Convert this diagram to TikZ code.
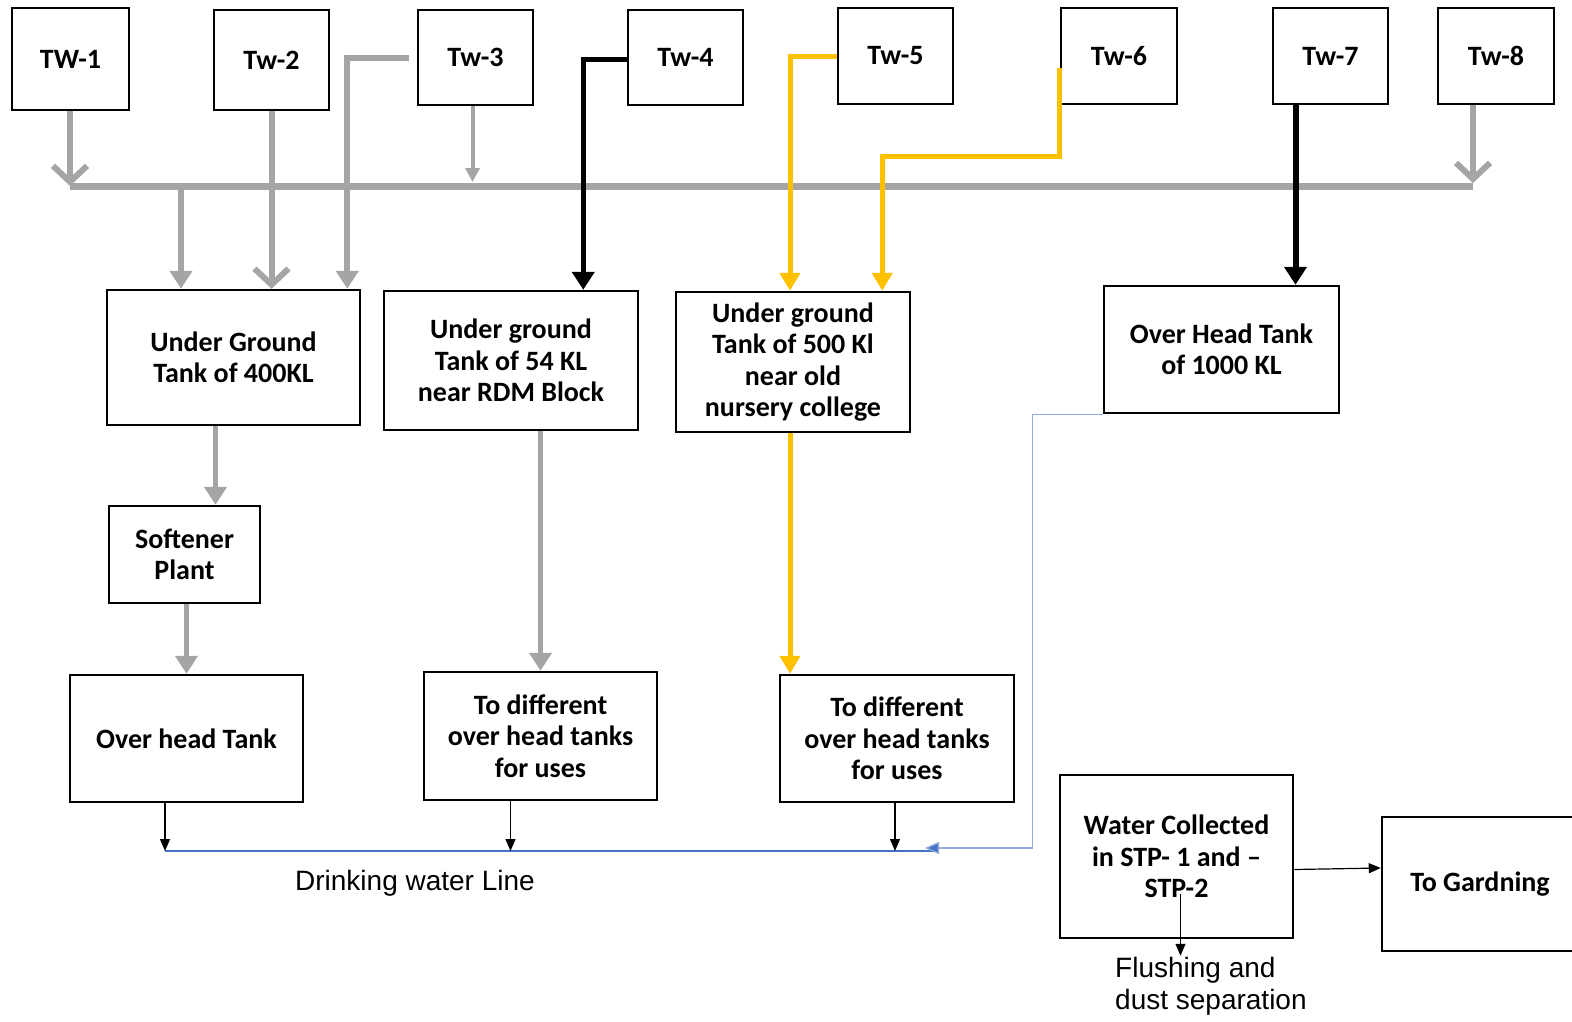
\documentclass[tikz,border=0pt]{standalone}
\usepackage{fontspec}
\setmainfont{Carlito}
\newfontfamily\arialfont{Liberation Sans}
\usepackage{xcolor,tikz}
\usetikzlibrary{arrows.meta,calc,positioning}
\definecolor{pipegray}{HTML}{A5A5A5}
\definecolor{pipeyellow}{HTML}{FFC000}
\definecolor{lineblue}{HTML}{4472C4}
\definecolor{lightblue}{HTML}{8FAADC}
\tikzset{>=stealth}

\begin{document}
\begin{tikzpicture}[x=1pt,y=-1pt,
  box/.style={draw, line width=2.5pt, align=center, inner sep=0pt,
    font=\fontsize{28}{31.5}\selectfont\bfseries},
  gpipe/.style={draw=pipegray, line width=6pt},
  gtip/.style={-{Triangle[length=18pt,width=22pt]}},
  vtip/.style={-{Straight Barb[length=16pt,width=34pt]}},
  ypipe/.style={draw=pipeyellow, line width=5pt, -{Triangle[length=18pt,width=20pt]}},
  kpipe/.style={draw=black, line width=5pt, -{Triangle[length=18pt,width=22pt]}},
  thinarrow/.style={draw=black, line width=1.2pt, -{Triangle[length=12pt,width=10pt]}}]
\useasboundingbox (0,0) rectangle (1572,1021);
%%%% tube wells
\node[box, minimum width=117, minimum height=102] (tw1) at (70.5,59) {TW-1};
\node[box, minimum width=115, minimum height=100] (tw2) at (271.5,60) {Tw-2};
\node[box, minimum width=115, minimum height=95] (tw3) at (475.5,57.5) {Tw-3};
\node[box, minimum width=115, minimum height=95] (tw4) at (685.5,57.5) {Tw-4};
\node[box, minimum width=115, minimum height=96] (tw5) at (895.5,56) {Tw-5};
\node[box, minimum width=116, minimum height=96] (tw6) at (1119,56) {Tw-6};
\node[box, minimum width=115, minimum height=96] (tw7) at (1330.5,56) {Tw-7};
\node[box, minimum width=116, minimum height=96] (tw8) at (1496,56) {Tw-8};
%%%% tanks
\node[box, minimum width=253, minimum height=135] (ug400) at (233.5,357.5) {Under Ground\\Tank of 400KL};
\node[box, minimum width=254, minimum height=139] (ug54) at (511,360.5) {Under ground\\Tank of 54 KL\\near RDM Block};
\node[box, minimum width=234, minimum height=140] (ug500) at (793,362) {Under ground\\Tank of 500 Kl\\near old\\nursery college};
\node[box, minimum width=235, minimum height=127] (oht) at (1221.5,349.5) {Over Head Tank\\of 1000 KL};
\node[box, minimum width=151, minimum height=97] (soft) at (184.5,554.5) {Softener\\Plant};
\node[box, minimum width=233, minimum height=127] (ohtank) at (186.5,738.5) {Over head Tank};
\node[box, minimum width=233, minimum height=128] (diff1) at (540.5,736) {To different\\over head tanks\\for uses};
\node[box, minimum width=234, minimum height=127] (diff2) at (897,738.5) {To different\\over head tanks\\for uses};
\node[box, minimum width=233, minimum height=163] (stp) at (1176.5,856.5) {Water Collected\\in STP- 1 and --\\STP-2};
\node[box, minimum width=196, minimum height=134] (garden) at (1480,884) {To Gardning};
%%%% labels
\node[font=\arialfont\fontsize{28}{32}\selectfont] (dwlabel) at (415,883) {Drinking water Line};
\node[font=\arialfont\fontsize{28}{32}\selectfont, align=left, anchor=west, inner sep=1pt] (flush) at (1114,986) {Flushing and\\dust separation};
%%%% header line
\coordinate (busL) at (70,186);
\coordinate (busR) at (1473,186);
\coordinate (drop1) at (181,186);
\draw[gpipe, line width=7pt] (busL) -- (busR);
\draw[gpipe, vtip] (busL |- tw1.south) -- (busL);
\draw[gpipe, vtip] (busR |- tw8.south) -- ([yshift=3]busR);
\draw[gpipe, line width=4pt, -{Triangle[length=14pt,width=14pt]}] ([xshift=-3]tw3.south) -- ([xshift=-3]tw3.south |- 0,182);
\draw[gpipe, gtip] (drop1) -- (drop1 |- ug400.north);
\draw[gpipe, vtip] (tw2.south) -- (tw2.south |- ug400.north);
\draw[gpipe, gtip] ([xshift=-8]tw3.west) -| ([xshift=-14]ug400.north east);
%%%%
\draw[kpipe] ([yshift=-2]tw4.west) -| ([xshift=-56]ug54.north east);
\draw[ypipe] (tw5.west) -| (ug500.north -| 790,0);
\draw[ypipe] (1059,68) -- (1059,156) -| ([xshift=-29]ug500.north east);
\draw[kpipe, line width=6pt] ([xshift=-35]tw7.south) -- ([xshift=-35]tw7.south |- oht.north);
%%%% down the tanks
\draw[gpipe, line width=4.5pt, gtip] ([xshift=-18]ug400.south) -- ([xshift=-18]ug400.south |- soft.north);
\draw[gpipe, line width=4.5pt, gtip] ([xshift=2]soft.south) -- ([xshift=2]soft.south |- ohtank.north);
\draw[gpipe, line width=4.5pt, gtip] (diff1.north |- ug54.south) -- (diff1.north);
\draw[ypipe] ([xshift=-3]ug500.south) -- ([xshift=-3]ug500.south |- diff2.north);
%%%% drinking water line
\coordinate (dwL) at (165,851);
\coordinate (dwR) at (935,851);
\draw[lineblue, line width=2.5pt] (dwL) -- (dwR);
\draw[thinarrow] (dwL |- ohtank.south) -- (dwL);
\draw[thinarrow] ([xshift=-30]diff1.south) -- ([xshift=-30]diff1.south |- dwL);
\draw[thinarrow] ([xshift=-2]diff2.south) -- ([xshift=-2]diff2.south |- dwL);
\draw[lightblue, line width=1.3pt, -{Triangle[length=14pt,width=12pt,fill=lineblue]}] (oht.south west) -- ++(-70,0) |- (925,848);
%%%% sewage
\coordinate (flushtop) at ($(stp.center)+(4,37)$);
\draw[thinarrow] ($(stp.east)+(0,13)$) -- ($(garden.west)+(0,-16)$);
\draw[thinarrow] (flushtop) -- (flushtop |- flush.north);
\end{tikzpicture}
\end{document}
